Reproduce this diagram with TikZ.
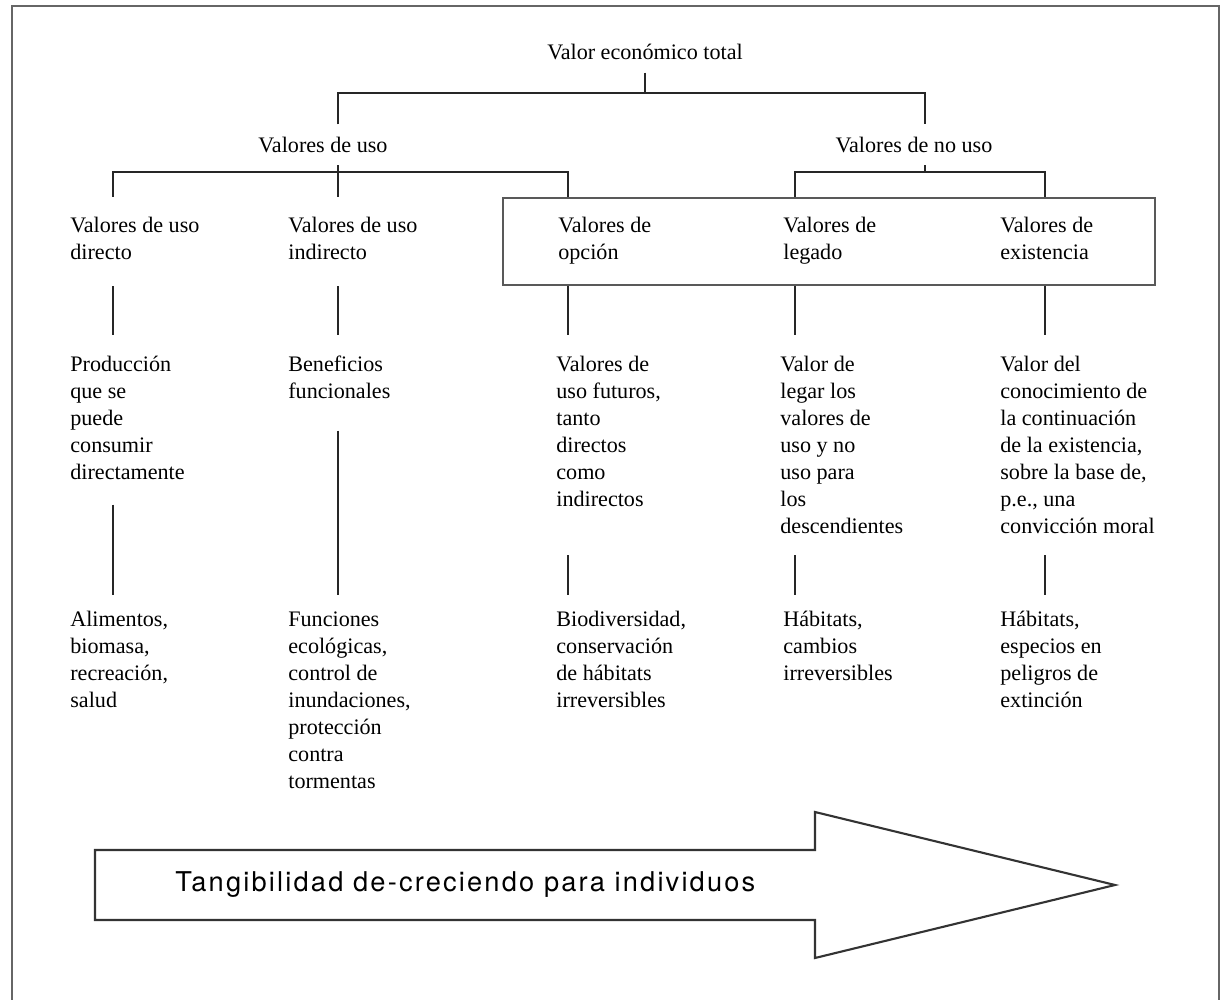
\documentclass[tikz,border=0pt]{standalone}
\usepackage{fontspec}
\setmainfont{Liberation Serif}
\newfontfamily\arrowfont[LetterSpace=8]{TeX Gyre Heros}
\usetikzlibrary{positioning}
\tikzset{
  txt/.style={anchor=north west, inner sep=0pt, align=left, font=\fontsize{12.6}{15.4}\selectfont},
  head/.style={inner xsep=0pt, inner ysep=7pt, font=\fontsize{12.6}{15.4}\selectfont},
  tree/.style={draw=black!85, line width=0.8pt},
}
\begin{document}
\begin{tikzpicture}[x=0.02cm,y=-0.02cm]
 \useasboundingbox (0,0) rectangle (1225,1000);
 \draw[gray!80!black, line width=1.5pt] (12,1000) -- (12,6) -- (1219,6) -- (1219,1000);
 % columns and rows
 \coordinate (ct) at (645,0);
 \coordinate (cn) at (925,0);
 \coordinate (c1) at (113,0);
 \coordinate (c2) at (338,0);
 \coordinate (c3) at (568,0);
 \coordinate (c4) at (795,0);
 \coordinate (c5) at (1045,0);
 \coordinate (topbar) at (645,93);
 \coordinate (ubar) at (0,172);
 \coordinate (r4) at (0,335);
 \coordinate (r45) at (0,555);
 \coordinate (r5) at (0,595);
 % headings
 \node[head] (total) at (645,52) {Valor económico total};
 \node[head] (uso) at (323,145) {Valores de uso};
 \node[head] (nouso) at (914,145) {Valores de no uso};
 % level 3
 \node[draw=gray!70!black, line width=1.2pt, minimum width=13.04cm, minimum height=1.74cm, inner sep=0pt] (box) at (829,241.5) {};
 \node[txt] (dir) at (70,213) {\strut Valores de uso\\directo};
 \node[txt] (ind) at (288,213) {\strut Valores de uso\\indirecto};
 \node[txt] (opc) at (558,213) {\strut Valores de\\opción};
 \node[txt] (leg) at (783,213) {\strut Valores de\\legado};
 \node[txt] (exi) at (1000,213) {\strut Valores de\\existencia};
 % level 4
 \node[txt] (prod) at (70,352) {\strut Producción\\que se\\puede\\consumir\\directamente};
 \node[txt] (ben) at (288,352) {\strut Beneficios\\funcionales};
 \node[txt] (fut) at (556,352) {\strut Valores de\\uso futuros,\\tanto\\directos\\como\\indirectos};
 \node[txt] (lgr) at (780,352) {\strut Valor de\\legar los\\valores de\\uso y no\\uso para\\los\\descendientes};
 \node[txt] (cono) at (1000,352) {\strut Valor del\\conocimiento de\\la continuación\\de la existencia,\\sobre la base de,\\p.e., una\\convicción moral};
 % level 5
 \node[txt] (alim) at (70,607) {\strut Alimentos,\\biomasa,\\recreación,\\salud};
 \node[txt] (func) at (288,607) {\strut Funciones\\ecológicas,\\control de\\inundaciones,\\protección\\contra\\tormentas};
 \node[txt] (bio) at (556,607) {\strut Biodiversidad,\\conservación\\de hábitats\\irreversibles};
 \node[txt] (hab) at (783,607) {\strut Hábitats,\\cambios\\irreversibles};
 \node[txt] (esp) at (1000,607) {\strut Hábitats,\\especios en\\peligros de\\extinción};
 % tree lines
 \draw[tree] (total.south) -- (topbar);
 \draw[tree] (uso.north -| c2) |- (topbar) -| (nouso.north -| cn);
 \draw[tree] (uso.south -| c2) -- (c2 |- box.north);
 \draw[tree] (c1 |- box.north) |- (c3 |- ubar) -- (c3 |- box.north);
 \draw[tree] (nouso.south -| cn) -- (cn |- ubar);
 \draw[tree] (c4 |- box.north) |- (c5 |- ubar) -- (c5 |- box.north);
 \foreach \c in {c1,c2,c3,c4,c5}
  \draw[tree] (\c |- box.south) -- (\c |- r4);
 \draw[tree, shorten <=14pt] (prod.south -| c1) -- (c1 |- r5);
 \draw[tree, shorten <=18pt] (ben.south -| c2) -- (c2 |- r5);
 \foreach \c in {c3,c4,c5}
  \draw[tree] (\c |- r45) -- (\c |- r5);
 % arrow
 \draw[gray!40!black, line width=1.2pt] (95,850) -- (815,850) -- (815,812) -- (1115,885)
   -- (815,958) -- (815,920) -- (95,920) -- cycle;
 \node[anchor=west, inner sep=0pt, font=\arrowfont\fontsize{15.5}{18}\selectfont] (tangible) at (175,885) {Tangibilidad de-creciendo para individuos};
\end{tikzpicture}
\end{document}
